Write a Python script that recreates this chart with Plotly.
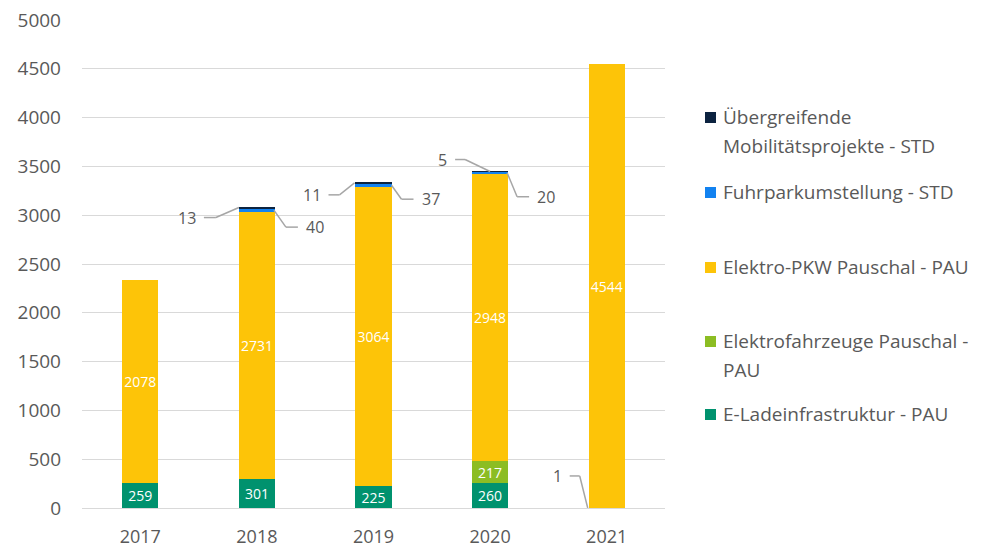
import plotly.graph_objects as go

years = ["2017", "2018", "2019", "2020", "2021"]

series_names = [
    "E-Ladeinfrastruktur - PAU",
    "Elektrofahrzeuge Pauschal - PAU",
    "Elektro-PKW Pauschal - PAU",
    "Fuhrparkumstellung - STD",
    "Übergreifende Mobilitätsprojekte - STD",
]
e_lade = [259, 301, 225, 260, 1]
elektrofahrzeuge = [0, 0, 0, 217, 0]
elektro_pkw = [2078, 2731, 3064, 2948, 4544]
fuhrpark = [0, 40, 37, 20, 0]
uebergreifend = [0, 13, 11, 5, 0]

series_values = [e_lade, elektrofahrzeuge, elektro_pkw, fuhrpark, uebergreifend]
colors = ["#00926e", "#8cbd23", "#fdc408", "#1282f0", "#0c2340"]

legend_lines = [
    ["Übergreifende", "Mobilitätsprojekte - STD"],
    ["Fuhrparkumstellung - STD"],
    ["Elektro-PKW Pauschal - PAU"],
    ["Elektrofahrzeuge Pauschal -", "PAU"],
    ["E-Ladeinfrastruktur - PAU"],
]
legend_colors = ["#0c2340", "#1282f0", "#fdc408", "#8cbd23", "#00926e"]

y_ticks = [0, 500, 1000, 1500, 2000, 2500, 3000, 3500, 4000, 4500, 5000]

# leader-line labels: (series index, year, anchor dx, elbow dx, elbow dy, end dx, text side)
leaders = [
    (4, "2018", -18, -41, -10, -53, "left"),
    (3, "2018", 17, 29, -17, 41, "right"),
    (4, "2019", -19, -34, -12, -45, "left"),
    (3, "2019", 18, 28, -14, 40, "right"),
    (4, "2020", 0, -25, 12, -35, "left"),
    (3, "2020", 17, 27, -24, 39, "right"),
    (0, "2021", -19, -27, 32, -37, "left"),
]

FONT = "Open Sans"
GRAY = "#595959"

fig = go.Figure()
for name, vals, col in zip(series_names, series_values, colors):
    txt = [str(v) if v >= 100 else "" for v in vals]
    fig.add_trace(go.Bar(
        x=years, y=vals, name=name, marker=dict(color=col, line=dict(width=0)),
        text=txt, textposition="inside", insidetextanchor="middle", textangle=0,
        textfont=dict(color="white", size=14, family=FONT),
        showlegend=False, hoverinfo="x+y+name",
    ))

# cumulative bottoms for segment midpoints
bottoms = []
run = [0] * len(years)
for vals in series_values:
    bottoms.append(run[:])
    run = [r + v for r, v in zip(run, vals)]

shapes = []
annotations = []
for si, yr, adx, edx, edy, endx, side in leaders:
    i = years.index(yr)
    v = series_values[si][i]
    mid = bottoms[si][i] + v / 2
    common = dict(type="line", xref="x", yref="y", xsizemode="pixel", ysizemode="pixel",
                  xanchor=i, yanchor=mid, line=dict(color="#a6a6a6", width=1.5))
    shapes.append(dict(common, x0=adx, y0=0, x1=edx, y1=edy))
    shapes.append(dict(common, x0=edx, y0=edy, x1=endx, y1=edy))
    annotations.append(dict(x=i, y=mid, xref="x", yref="y", text=str(v), showarrow=False,
                            xanchor="right" if side == "left" else "left",
                            xshift=endx - 6 if side == "left" else endx + 6, yshift=edy,
                            font=dict(color=GRAY, size=16, family=FONT)))

# manual legend (paper coordinates)
plot_l, plot_r, plot_t, plot_b = 82, 665, 20, 508
def px2paper_x(p):
    return (p - plot_l) / (plot_r - plot_l)
def px2paper_y(p):
    return (plot_b - p) / (plot_b - plot_t)

legend_tops = [117, 192, 267, 341, 414]
for lines, col, ytop in zip(legend_lines, legend_colors, legend_tops):
    shapes.append(dict(type="rect", xref="paper", yref="paper",
                       x0=px2paper_x(705), x1=px2paper_x(716),
                       y0=px2paper_y(ytop + 6), y1=px2paper_y(ytop - 5),
                       fillcolor=col, line=dict(width=0)))
    for k, ln in enumerate(lines):
        annotations.append(dict(xref="paper", yref="paper", x=px2paper_x(721),
                                y=px2paper_y(ytop + 28.5 * k), text=ln, showarrow=False,
                                xanchor="left", yanchor="middle",
                                font=dict(color=GRAY, size=19, family=FONT)))

fig.update_layout(
    barmode="stack", bargap=0.69,
    width=995, height=549,
    margin=dict(l=plot_l, r=995 - plot_r, t=plot_t, b=549 - plot_b),
    plot_bgcolor="white", paper_bgcolor="white",
    font=dict(family=FONT, color=GRAY),
    shapes=shapes, annotations=annotations,
    uniformtext=dict(mode="show", minsize=14),
)
fig.update_xaxes(type="category", range=[-0.5, 4.5], autorange=False, automargin=False,
                 showgrid=False, showline=False, zeroline=False,
                 tickfont=dict(size=18, color=GRAY, family=FONT), ticklabelstandoff=16)
fig.update_yaxes(range=[0, 5000], autorange=False, automargin=False, tickvals=y_ticks,
                 showgrid=True, gridcolor="#d9d9d9",
                 gridwidth=1, zeroline=True, zerolinecolor="#d9d9d9", zerolinewidth=1,
                 showline=False, tickfont=dict(size=19, color=GRAY, family=FONT),
                 ticklabelstandoff=20)

fig.write_html("out.html", config={"displayModeBar": False},
               post_script="document.body.style.margin='0';document.body.style.overflow='hidden';")
